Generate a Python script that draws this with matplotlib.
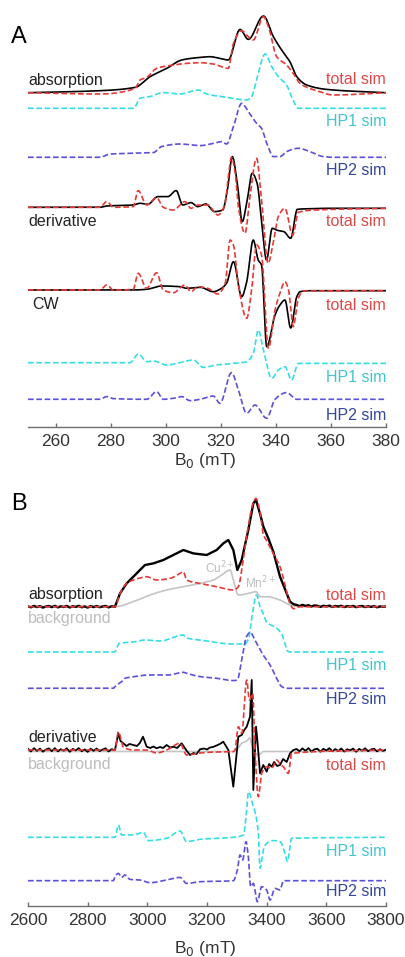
import matplotlib.pyplot as plt
import numpy as np

plt.rcParams['font.family'] = ['Liberation Sans', 'DejaVu Sans']

# ---------------- panel A (mT) ----------------
a_abs_x = [250, 276.1, 288.9, 294.3, 300.4, 305.8, 312.5, 316.1, 319.7, 322.7, 327.0, 330.0, 335.5,
           339.1, 342.1, 345.1, 347.6, 351.2, 358.4, 380]
a_abs_y = [0, 2, 5.3, 16, 24.3, 32.7, 35.3, 36, 34.3, 32.7, 63.3, 53.3, 76.7, 56, 42.7, 31, 16, 7.7, 3.3, 0]

a_tot_x = [250, 276.1, 288.9, 290.7, 293.1, 296.7, 302.8, 307.6, 312.5, 317.3, 322.7, 324.6, 327.6, 330.0,
           331.8, 335.5, 337.3, 340.3, 343.9, 346.3, 348.8, 354.8, 360.9, 380]
a_tot_y = [0, -1.3, 4.3, 12.7, 15.3, 24.3, 27.7, 29.3, 30, 28.7, 24.3, 49.3, 62, 56, 52.7, 76, 66, 36, 27.7,
           19.3, 9.3, 2, -2.3, 0]

a_hp1_x = [250, 288.4, 290.7, 294.3, 299.1, 305.2, 311.9, 314.9, 322.1, 329.4, 331.2, 333.0, 336.1, 338.5,
           340.9, 343.9, 345.7, 348.2, 380]
a_hp1_y = [0, 0, 10, 11.7, 15.7, 14.3, 18.3, 14.3, 11, 8.3, 11.7, 28.3, 54.3, 41.7, 31.7, 23.3, 11.7, 0, 0]

a_hp2_x = [250, 276.1, 279.8, 288.2, 295.5, 298.5, 305.2, 312.5, 318.5, 320.3, 322.1, 324.6, 327.6, 330.0,
           333.0, 334.8, 336.7, 339.1, 341.5, 343.9, 348.2, 352.4, 357.2, 360.9, 380]
a_hp2_y = [0, 0, 3.3, 4, 4.7, 10.7, 13.3, 11.7, 14.7, 15.7, 13.3, 30.7, 54, 45.7, 34, 29, 14, 0.7, 0.7, 5.7,
           9, 5.7, 0.7, 0, 0]

a_der_x = [250, 276.1, 278.6, 288.2, 290.7, 293.5, 297.2, 300.8, 303.8, 306.2, 309.2, 311.6, 314.6, 317.7,
           320.7, 322.4, 324.2, 326.0, 327.8, 329.6, 331.4, 333.2, 335.0, 336.6, 338.7, 340.5, 342.9, 345.4,
           347.8, 351.4, 360.0, 380]
a_der_y = [0, 0, 1.3, 2.3, 4, 3, 10.7, 10.7, 16.7, 2.3, 4.7, 0.7, 3.3, -4.3, -2.7, 17.3, 50.7, 24, -14.3,
           7.3, 34, 24, -19.3, -52.7, -21, -23, -24.3, -31, -2, -1.5, -1, -1]

a_dsim_x = [250, 276.1, 278.6, 281.0, 288.2, 290.0, 293.1, 296.7, 299.1, 302.8, 307.0, 309.2, 311.6, 315.3,
            318.9, 321.6, 322.7, 323.9, 325.2, 326.4, 328.8, 330.6, 333.0, 334.8, 337.2, 339.0, 340.9,
            343.3, 346.1, 348.2, 354.2, 380]
a_dsim_y = [0, 0, 5.7, 0, 0.7, 16.7, 2.3, 9.7, 0, -2.7, 5.7, -1, 2.3, 2.3, -7.7, 4, 30, 50, 35, 0, -26,
            10.7, 49, 7.3, -56, -36, -9.3, -1, -28, -5, -2.7, -1]

a_cw_x = [250, 288.2, 293.1, 298.5, 305.2, 307.6, 312.5, 317.3, 319.7, 322.1, 324.6, 327.6, 329.4, 331.8,
          333.6, 334.8, 336.7, 339.7, 341.5, 343.3, 345.4, 347.6, 348.8, 352.4, 380]
a_cw_y = [0, 0, 0.7, 4, 3.3, 1.7, 2.7, -1.7, 0.7, 6.7, 28.3, -6.7, 8, 50, 30, 25, -56.7, -25, -15, -10,
          -38, -6.7, -1.7, -0.7, -0.7]

a_cwsim_x = [250, 276.1, 278.6, 281.0, 288.2, 290.0, 293.1, 296.7, 299.1, 302.8, 307.0, 309.2, 311.6,
             315.3, 318.9, 321.6, 323.4, 324.6, 326.4, 329.4, 331.2, 333.0, 334.8, 337.3, 339.7, 341.5,
             343.3, 344.6, 346.3, 348.2, 350.0, 380]
a_cwsim_y = [0, 0, 5, 0, 0.7, 16.7, 1.7, 17.3, 0, -2.7, 5, -1.7, 3.3, 1.7, -4, 6.7, 50, 45, 5, -28.3, 0,
             45, 35, -58.3, -20, -3, 8.3, 0, -36.7, -8, -1, -0.7]

a_hp1d_x = [250, 287.0, 290.1, 293.1, 295.5, 300.4, 305.2, 310.0, 313.7, 318.5, 324.6, 329.4, 331.8,
            333.6, 335.5, 338.5, 340.9, 343.3, 345.7, 348.2, 380]
a_hp1d_y = [0, 0, 8.7, 1, 1.7, -2.3, 0, 2.7, -4.7, -2.3, -0.7, 1, 9.3, 32.7, 12.7, -15.7, -7.3, -4,
            -17.3, -0.7, -0.7]

a_hp2d_x = [250, 276.1, 278.6, 281.0, 293.1, 296.7, 299.1, 302.8, 305.8, 308.8, 312.5, 317.3, 319.7,
            323.9, 326.4, 329.4, 332.4, 336.7, 339.7, 343.9, 347.6, 380]
a_hp2d_y = [0, 0, 2.7, 0.7, 0, 7.7, 0, 1, 2.7, -1.3, 0, 3.3, -4, 26.7, 9.3, -14, -5.7, -19, 0, 6.7, 0, 0]

# ---------------- panel B (mT) ----------------
b_abs_x = [*range(2600, 2890, 10), 2891.6, 2908.4, 2930.7, 2953.1, 2975.4, 2992.2, 3020.1, 3053.6,
           3087.2, 3120.7, 3154.2, 3198.9, 3232.4, 3254.7, 3271.5, 3288.3, 3301.7, 3316.2, 3338.5, 3355.3,
           3364.2, 3377.7, 3389.0, 3405.6, 3422.3, 3444.8, 3478.2, 3490, *range(3500, 3801, 10)]
b_abs_y = [0.3, -0.6, 0.8, -0.4, 0.6, -0.9, 0.2, 0.7, -0.5, 0.9, -0.7, 0.4, -0.3, 0.8, -0.8, 0.5, -0.2,
           0.9, -0.6, 0.3, -0.9, 0.6, -0.4, 0.7, -0.5, 0.2, 0.8, -0.7, 0.4,
           0, 13.3, 23.3, 30, 36.7, 41.7, 43.3, 46.7, 51.7, 56.7, 53.3, 51.7, 56.7, 63.3, 66.7, 56.7, 36.7,
           46.7, 76.7, 103.3, 106.7, 93, 80, 68.3, 55, 30, 5, 2.5,
           1.8, 0.6, 1.9, 0.8, 1.5, 0.2, 1.3, 0.9, -0.2, 1.0, 0.3, 1.1, -0.3, 0.7, 0.2, 0.9, -0.4, 0.6,
           0.0, 0.8, -0.5, 0.4, 0.7, -0.4, 0.5, -0.2, 0.6, -0.6, 0.3, -0.1, 0.2]

b_tot_x = [2600, 2891.6, 2908.4, 2930.7, 2953.1, 2969.8, 2997.8, 3031.3, 3076.0, 3109.5, 3120.7, 3131.8,
           3176.5, 3232.4, 3288.3, 3305.0, 3321.8, 3338.0, 3353.0, 3364.0, 3377.7, 3389.0, 3400.0, 3422.3,
           3444.7, 3461.5, 3478.2, 3490.0, 3511.7, 3800]
b_tot_y = [0, 0, 13.3, 23.3, 26.7, 28.3, 30, 26.7, 28.3, 33.3, 35, 26.7, 23.3, 20, 16.7, 20, 48, 80, 102,
           108.3, 95, 72, 66, 53, 40, 22, 3, -2, 0, 0]

b_bg_x = [2600, 2891.6, 2953.1, 3008.9, 3064.8, 3120.7, 3176.5, 3221.2, 3249.2, 3277.0, 3290.0, 3305.0,
          3338.5, 3364.0, 3378.0, 3400.0, 3444.7, 3478.2, 3511.7, 3800]
b_bg_y = [0, 0, 5, 11.7, 16.7, 20, 23.3, 26.7, 31.7, 36.7, 25, 11.7, 13.3, 15, 10, 10, 6.7, 1.7, 0, 0]

b_hp1_x = [2600, 2889.4, 2906.1, 2953.1, 2992.2, 3042.5, 3120.7, 3131.8, 3176.5, 3288.3, 3327.0, 3340.0,
           3352.0, 3366.0, 3378.0, 3389.0, 3400.0, 3433.0, 3450.0, 3462.0, 3470.0, 3478.0, 3800]
b_hp1_y = [0, 0, 8.7, 10, 12, 11, 17, 14, 12, 8, 8, 14, 38, 57, 45, 38, 30, 24, 18, 8, 1, 0, 0]

b_hp2_x = [2600, 2886.0, 2891.6, 2913.9, 2925.1, 2958.7, 3003.4, 3070.4, 3120.7, 3131.8, 3176.5, 3232.4,
           3288.3, 3301.7, 3316.2, 3333.0, 3345.0, 3361.0, 3389.0, 3411.2, 3433.5, 3450.3, 3467.0, 3800]
b_hp2_y = [0, 0, 1.7, 6.7, 10, 11.7, 13.3, 13.3, 16, 15, 11.7, 10, 7.7, 8.3, 28.3, 52, 56, 48, 33, 23.3,
           10, 1.7, 0, 0]

b_der_x = [*range(2600, 2890, 10), 2891.6, 2902.8, 2910, 2919.6, 2930, 2940, 2953.1, 2965, 2975, 2985.5,
           2997.8, 3010, 3020, 3031.3, 3042, 3053, 3064.8, 3076, 3087.2, 3100, 3115.1, 3130, 3143.0, 3155,
           3165, 3176.6, 3190, 3200, 3210, 3220, 3232, 3243, 3254.7, 3271.5, 3288.2, 3305.0, 3316.4, 3325,
           3333.2, 3344.2, 3349.9, 3355.3, 3364.3, 3368.7, 3377.7, 3388.8, 3400.2, 3408, 3417.0, 3425, 3435,
           3444.8, 3455, 3467.2, 3478.3, 3489.4, *range(3500, 3801, 10)]
b_der_y = [1.2, -1.5, 1.8, -0.9, 1.4, -1.7, 0.5, 1.6, -1.2, 1.9, -1.4, 0.8, -0.7, 1.7, -1.8, 1.1, -0.4,
           1.9, -1.3, 0.6, -1.9, 1.3, -0.8, 1.5, -1.1, 0.4, 1.7, -1.5, 0.8,
           0, 16.7, 9, 6.7, 4, 6, 5, 4, 7, 13.3, 3.3, 2, 3.5, 1.7, 3, 2, 5, 2.5, 3.3, 2, 6.7, 0, -5, -3, -4,
           0.7, 1.5, 0.5, 2.5, 3, 4.5, 6, 8.3, 0, -36.7, 13.3, 15, 20, 23.3, 33.3, 70, -40, 23.3, 10, -23.3,
           -15, -21.7, -14, -16.7, -12, -16, -15, -9, -12, -3.3, 0,
           1.0, -1.2, 1.6, -0.8, 1.9, -1.5, 0.6, 1.3, -1.7, 1.2, -0.5, 1.8, -1.3, 0.9, -1.0, 1.5, -1.6, 0.7,
           -0.3, 1.4, -1.8, 1.1, -0.6, 1.7, -1.2, 0.5, 1.3, -1.4, 0.8, -0.9, 0.4]

b_dsim_x = [2600, 2891.6, 2902.8, 2919.6, 2953.1, 2997.8, 3031.3, 3064.8, 3109.5, 3131.8, 3176.5, 3232,
            3288.2, 3293.9, 3305.0, 3316.4, 3333.2, 3341.9, 3353.3, 3361.0, 3372.0, 3383.4, 3400.2, 3417.0,
            3433.7, 3445, 3455.9, 3472.6, 3484.0, 3800]
b_dsim_y = [0, 0, 18.3, 3, 0, 0, -3, 0, 6.7, -5, -3, -2, -1.7, 0, 23.3, 16.7, 70, 50, 56.7, 0, -46.7,
            -23.3, -16.7, -18.3, -10, -14, -16.7, -23.3, -3.3, 0]

b_dbg_x = [2600, 3290, 3305, 3316, 3333, 3344, 3352, 3362, 3372, 3390, 3800]
b_dbg_y = [-1.5, -1.5, 2, 6.7, 9, 12, 3, -3, -5, -1.5, -1.5]

b_hp1d_x = [2600, 2891.6, 2902.8, 2914.0, 2953.1, 2986.6, 3003.4, 3064.8, 3109.5, 3131.8, 3176.5, 3288.3,
            3321.8, 3333.0, 3338.5, 3355.3, 3360.9, 3372.1, 3377.7, 3388.8, 3400.0, 3422.3, 3444.7, 3461.5,
            3469.3, 3483.8, 3800]
b_hp1d_y = [0, 0, 12.3, 2.3, 2.3, 5, -3.3, -1, 6.3, -4.3, -2, 0, 2.3, 27.3, 45.6, 30.7, 25.7, 4, -31,
            -12.7, -6, -3.3, -4.3, -16, -24.3, -1, 0]

b_hp2d_x = [2600, 2886.0, 2891.6, 2902.8, 2914.0, 2925.1, 2941.9, 2975.4, 3008.9, 3064.8, 3109.5, 3131.8,
            3176.5, 3288.3, 3301.7, 3310.6, 3319.6, 3330.7, 3338.5, 3346.4, 3355.3, 3368.7, 3383.2, 3400.0,
            3411.2, 3427.9, 3444.7, 3455.9, 3800]
b_hp2d_y = [0, 0, 4, 7.3, 3.3, 5.7, 1.3, 0.7, -2, 0.7, 3.3, -2.7, -1, 0, 10.7, 25.7, 20.7, 39, 24, -6,
            -2.7, -21, -6, -9.3, -19.3, -7.7, -9.3, 0, 0]

# colours
RED = '#e53935'
CYAN = '#35dde6'
BLUE = '#5a50dc'
GRAY = '#c4c4c4'
RED_T = '#e04848'
CYAN_T = '#45c4cf'
BLUE_T = '#34479a'
GRAY_T = '#bdbdbd'
DASH = (0, (3.4, 1.6))

W, H = 406, 957
fig = plt.figure(figsize=(W / 100, H / 100), dpi=100)


def pchip(x, y, n=12):
    # shape-preserving cubic through the read points, only for drawing smoothly
    x = np.asarray(x, float)
    y = np.asarray(y, float)
    h = np.diff(x)
    d = np.diff(y) / h
    m = np.zeros_like(y)
    m[0], m[-1] = d[0], d[-1]
    for k in range(1, len(x) - 1):
        if d[k - 1] * d[k] > 0:
            w1 = 2 * h[k] + h[k - 1]
            w2 = h[k] + 2 * h[k - 1]
            m[k] = (w1 + w2) / (w1 / d[k - 1] + w2 / d[k])
    xs, ys = [], []
    for k in range(len(h)):
        t = np.linspace(0, 1, n, endpoint=False)
        h00 = 2 * t ** 3 - 3 * t ** 2 + 1
        h10 = t ** 3 - 2 * t ** 2 + t
        h01 = -2 * t ** 3 + 3 * t ** 2
        h11 = t ** 3 - t ** 2
        xs.append(x[k] + t * h[k])
        ys.append(h00 * y[k] + h10 * h[k] * m[k] + h01 * y[k + 1] + h11 * h[k] * m[k + 1])
    xs.append([x[-1]])
    ys.append([y[-1]])
    return np.concatenate(xs), np.concatenate(ys)


def make_axes(top, bottom, xlim, ticks):
    ax = fig.add_axes([28 / W, 1 - bottom / H, 358 / W, (bottom - top) / H])
    ax.set_xlim(*xlim)
    ax.set_ylim(0, bottom - top)
    for s in ['top', 'right', 'left']:
        ax.spines[s].set_visible(False)
    ax.spines['bottom'].set_color('#6e6e6e')
    ax.spines['bottom'].set_linewidth(1.0)
    ax.set_yticks([])
    ax.set_xticks(ticks)
    ax.tick_params(axis='x', direction='in', length=3, width=1, color='#6e6e6e',
                   labelsize=12.5, labelcolor='#333333', pad=5)
    ax.patch.set_alpha(0)
    return ax


def trace(ax, x, y, base, color, dashed=True, lw=1.2, z=2, smooth=True):
    if smooth:
        x, y = pchip(x, y)
    ax.plot(x, np.asarray(y) + base, color=color, lw=lw,
            ls=DASH if dashed else '-', zorder=z, solid_joinstyle='round')


def label(x, y, s, color, ha='left', size=11.5):
    fig.text(x / W, 1 - y / H, s, color=color, ha=ha, va='center', fontsize=size)


# panel A
axA = make_axes(10, 427, (250, 380), [260, 280, 300, 320, 340, 360, 380])
trace(axA, a_abs_x, a_abs_y, 334.3, 'black', dashed=False, z=2)
trace(axA, a_tot_x, a_tot_y, 334.3, RED, z=3)
trace(axA, a_hp1_x, a_hp1_y, 318.7, CYAN)
trace(axA, a_hp2_x, a_hp2_y, 269.7, BLUE)
trace(axA, a_der_x, a_der_y, 219.7, 'black', dashed=False)
trace(axA, a_dsim_x, a_dsim_y, 219.7, RED, z=3)
trace(axA, a_cw_x, a_cw_y, 137, 'black', dashed=False)
trace(axA, a_cwsim_x, a_cwsim_y, 137, RED, z=3)
trace(axA, a_hp1d_x, a_hp1d_y, 64.3, CYAN)
trace(axA, a_hp2d_x, a_hp2d_y, 27.7, BLUE)

label(11, 37, 'A', 'black', size=17)
label(28, 81, 'absorption', '#222222')
label(386, 80, 'total sim', RED_T, ha='right')
label(386, 122, 'HP1 sim', CYAN_T, ha='right')
label(386, 171, 'HP2 sim', BLUE_T, ha='right')
label(28, 222, 'derivative', '#222222')
label(386, 222, 'total sim', RED_T, ha='right')
label(32, 305, 'CW', '#222222')
label(386, 306, 'total sim', RED_T, ha='right')
label(386, 377, 'HP1 sim', CYAN_T, ha='right')
label(386, 415, 'HP2 sim', BLUE_T, ha='right')
fig.text(205 / W, 1 - 461 / H, 'B$_0$ (mT)', ha='center', va='center', fontsize=12.5, color='#333333')

# panel B
axB = make_axes(485, 906, (2600, 3800), [2600, 2800, 3000, 3200, 3400, 3600, 3800])
trace(axB, b_bg_x, b_bg_y, 299.3, GRAY, dashed=False, lw=1.2, z=1)
trace(axB, b_abs_x, b_abs_y, 299.3, 'black', dashed=False, lw=1.7, z=2, smooth=False)
trace(axB, b_tot_x, b_tot_y, 299.3, RED, z=3)
trace(axB, b_hp1_x, b_hp1_y, 254, CYAN)
trace(axB, b_hp2_x, b_hp2_y, 217.7, BLUE)
trace(axB, b_dbg_x, b_dbg_y, 156, GRAY, dashed=False, lw=1.2, z=1)
trace(axB, b_der_x, b_der_y, 156, 'black', dashed=False, lw=1.3, z=2, smooth=False)
trace(axB, b_dsim_x, b_dsim_y, 156, RED, z=3)
trace(axB, b_hp1d_x, b_hp1d_y, 68.7, CYAN)
trace(axB, b_hp2d_x, b_hp2d_y, 25.3, BLUE)

label(11, 504, 'B', 'black', size=17)
label(28, 595, 'absorption', '#222222')
label(28, 618, 'background', GRAY_T)
label(386, 595, 'total sim', RED_T, ha='right')
label(205, 568, 'Cu$^{2+}$', GRAY_T, size=8.5)
label(245, 583, 'Mn$^{2+}$', GRAY_T, size=8.5)
label(386, 665, 'HP1 sim', CYAN_T, ha='right')
label(386, 700, 'HP2 sim', BLUE_T, ha='right')
label(28, 737, 'derivative', '#222222')
label(28, 765, 'background', GRAY_T)
label(386, 766, 'total sim', RED_T, ha='right')
label(386, 851, 'HP1 sim', CYAN_T, ha='right')
label(386, 892, 'HP2 sim', BLUE_T, ha='right')
fig.text(205 / W, 1 - 948 / H, 'B$_0$ (mT)', ha='center', va='center', fontsize=12.5, color='#333333')

fig.savefig('out.png', dpi=100, facecolor='white')
